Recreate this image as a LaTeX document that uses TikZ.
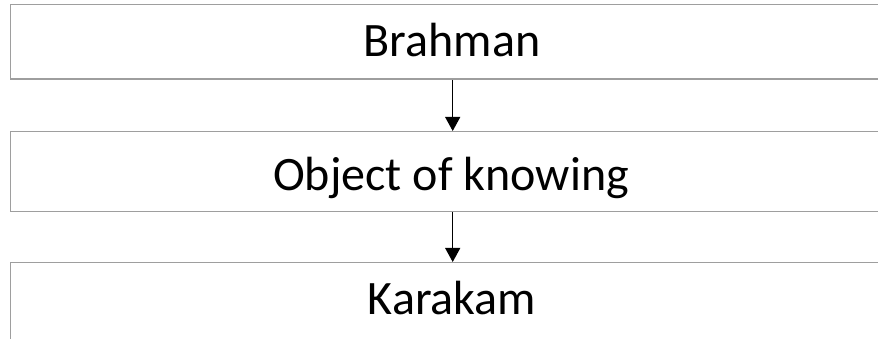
\documentclass[tikz,border=0pt]{standalone}
\usepackage{fontspec}
\setmainfont{Carlito}
\usetikzlibrary{arrows.meta}
\tikzset{
  box/.style={draw=black!38, line width=1.4pt, rectangle, inner sep=0pt, minimum width=884pt, anchor=north west},
  lbl/.style={anchor=base, inner sep=0pt, font=\fontsize{48}{56}\selectfont, text=black},
  link/.style={draw=black, line width=1.2pt, -{Triangle[width=15pt,length=14pt]}}
}
\begin{document}
\begin{tikzpicture}[x=1pt,y=1pt]
\useasboundingbox (0,0) rectangle (878,339);
\begin{scope}
\clip (0,0) rectangle (878,339);
\node[box, minimum height=74.5pt] (b1) at (10,335) {};
\node[box, minimum height=80pt] (b2) at (10,208) {};
\node[box, minimum height=97pt] (b3) at (10,77) {};
\node[lbl] (t1) at (452,282) {Brahman};
\node[lbl] (t2) at (451,148) {Object of knowing};
\node[lbl] (t3) at (452,24) {Karakam};
\draw[link] (b1.south) -- (b2.north);
\draw[link] (b2.south) -- (b3.north);
\end{scope}
\end{tikzpicture}
\end{document}
